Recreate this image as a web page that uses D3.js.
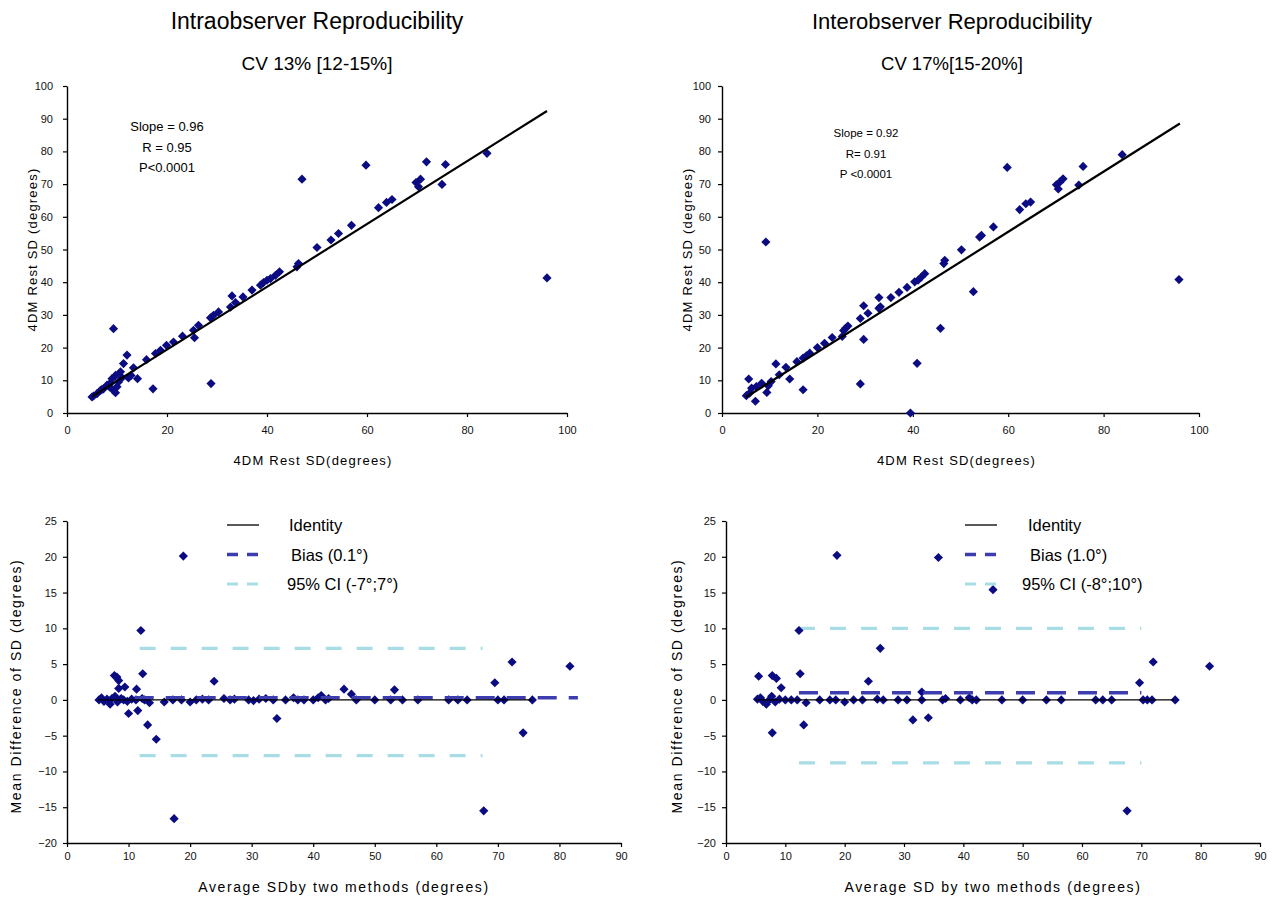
<!DOCTYPE html>
<html>
<head>
	<meta charset="utf-8">
	<title>Intra / Interobserver Reproducibility</title>
	<script src="https://d3js.org/d3.v7.min.js"></script>
	<style>
		body { margin: 0; background: #fff; }
		svg text { font-family: "Liberation Sans", Arial, sans-serif; }
	</style>
</head>
<body>
	<div class="chart"></div>

	<script type="text/javascript">

		// ---- data ----
		var titles = ['Intraobserver Reproducibility', 'Interobserver Reproducibility']
		var subtitles = ['CV 13% [12-15%]', 'CV 17%[15-20%]']
		var statsIntra = ['Slope = 0.96', 'R = 0.95', 'P<0.0001']
		var statsInter = ['Slope = 0.92', 'R= 0.91', 'P <0.0001']
		var legendIntra = ['Identity', 'Bias (0.1°)', '95% CI (-7°;7°)']
		var legendInter = ['Identity', 'Bias (1.0°)', '95% CI (-8°;10°)']

		var scatterXTicks = [0, 20, 40, 60, 80, 100]
		var scatterYTicks = [0, 10, 20, 30, 40, 50, 60, 70, 80, 90, 100]
		var diffXTicks = [0, 10, 20, 30, 40, 50, 60, 70, 80, 90]
		var diffYTicks = [-20, -15, -10, -5, 0, 5, 10, 15, 20, 25]

		// regression: [slope, intercept, xStart, xEnd]
		var fitIntra = [0.96, 0.2, 5, 96]
		var fitInter = [0.92, 0.2, 5, 96]

		// bland-altman lines: [value, xStart, xEnd]
		var identityIntra = [0, 5, 75.5]
		var identityInter = [0, 5, 75.5]
		var biasIntra = [0.3, 11, 83]
		var biasInter = [1.0, 12.3, 70]
		var ciIntra = [[7.2, 11.8, 67.5], [-7.8, 11.8, 67.5]]
		var ciInter = [[10, 12.3, 70], [-8.8, 12.3, 70]]

		var intraPoints = [
			[5, 4.9], [5.3, 5.2], [6, 5.9], [6.7, 6.9], [7, 7.2], [7.3, 7.4], [8, 8.5], [8.5, 8], [8.7, 9.2],
			[9, 10.5], [9.3, 6.9], [9.7, 6.2], [10, 8], [10.3, 9.5], [9.7, 11.5], [10.7, 12.6], [11, 10.8],
			[11.3, 15.1], [12, 17.7], [12.3, 10.7], [12.8, 11.5], [13.3, 13.8], [14.1, 10.5], [9.3, 25.8],
			[15.9, 16.3], [17.2, 7.4], [17.7, 18.2], [18.7, 19.2], [19.9, 20.7], [21.3, 21.7], [23.1, 23.5],
			[25.3, 25.3], [25.5, 23], [26.3, 26.8], [28.7, 29.1], [28.8, 9], [29.3, 29.9], [30.3, 30.9],
			[32.7, 32.4], [33, 35.8], [33.7, 33.8], [35.2, 35.5], [37, 37.6], [38.7, 39.1], [39.3, 39.9],
			[40, 40.6], [40.7, 41.1], [41.7, 42.1], [42.5, 43.2], [46, 44.7], [46.3, 45.7], [47, 71.5],
			[50, 50.6], [52.8, 52.9], [54.3, 54.9], [56.9, 57.4], [59.8, 75.8], [62.3, 62.8], [63.9, 64.4],
			[65, 65.3], [69.8, 70.5], [70.3, 69.2], [70.7, 71.5], [71.9, 76.8], [75, 69.9], [75.7, 76],
			[84, 79.4], [96, 41.3]
		]

		var interPoints = [
			[5.1, 5.3], [5.8, 6.1], [5.6, 10.4], [6.2, 7.6], [7, 3.6], [7.2, 8.1], [8.3, 9.1], [9.2, 52.3],
			[9.4, 6.3], [9.7, 8.3], [10.3, 9.6], [11.3, 15], [12, 11.7], [13.4, 14], [14.2, 10.4], [15.7, 15.7],
			[17, 16.8], [17, 7.1], [17.7, 17.5], [18.4, 18.3], [20, 20], [21.5, 21.3], [23.1, 23.1],
			[25.2, 23.4], [25.5, 25.2], [25.9, 25.9], [26.4, 26.6], [29, 28.9], [29, 8.9], [29.7, 32.8],
			[29.7, 22.5], [30.6, 30.5], [32.9, 35.3], [32.9, 32], [33.2, 32.5], [35.4, 35.3], [37.1, 36.9],
			[38.8, 38.4], [39.5, 0], [40.4, 40.1], [40.9, 15.2], [41.1, 40.6], [41.8, 41.6], [42.5, 42.6],
			[45.8, 25.9], [46.5, 45.7], [46.7, 46.7], [50.2, 49.9], [52.7, 37.1], [54, 53.8], [54.4, 54.3],
			[56.9, 56.9], [59.8, 75.1], [62.4, 62.2], [63.7, 64], [64.7, 64.5], [70.1, 69.8], [70.5, 68.5],
			[70.8, 70.6], [71.5, 71.6], [74.8, 69.7], [75.7, 75.4], [83.9, 79], [95.8, 40.8]
		]

		var intraDiff = [
			[18.9, 20.1], [12, 9.7], [12.3, 3.65], [11.3, 1.5], [11.5, -1.5], [10, -1.9], [13.1, -3.5],
			[14.5, -5.5], [17.4, -16.6], [23.9, 2.6], [34.1, -2.6], [45, 1.5], [46.2, 0.8], [53.2, 1.4],
			[69.5, 2.4], [72.3, 5.3], [74.1, -4.6], [67.7, -15.5], [81.7, 4.7], [75.6, 0], [7.7, 3.4],
			[8.1, 3.2], [8.4, 2.7], [9.4, 1.8], [8.4, 1.6],
			[5.2, 0], [5.6, 0.3], [6, -0.2], [6.5, 0.1], [7, -0.6], [7.3, 0.2], [7.8, 0.5], [8.2, -0.3],
			[8.8, 0.2], [9.2, 0], [9.8, -0.2], [10.5, 0.1], [11.2, 0], [12.2, 0.2], [12.6, 0], [13.4, -0.4],
			[15.8, -0.3], [17.2, 0], [18.6, 0], [20, -0.3], [21, 0], [22, 0.1], [23, 0], [25.5, 0.2],
			[26.5, 0], [27.2, 0.1], [29.5, 0], [30.3, -0.1], [31.2, 0.1], [32.3, 0.2], [33.5, 0], [35.5, 0],
			[36.8, 0.3], [37.5, 0], [38.5, 0], [40, 0], [40.8, 0.3], [41.3, 0.6], [42, 0], [42.5, 0.2],
			[47, 0], [50, 0], [52.6, 0], [54.5, 0], [57, 0], [62, 0], [63.5, 0], [65, 0], [70, 0], [71, 0]
		]

		var interDiff = [
			[18.7, 20.2], [35.8, 19.9], [45, 15.4], [12.3, 9.7], [26, 7.2], [24, 2.6], [12.5, 3.65],
			[5.5, 3.3], [7.8, 3.4], [8.5, 3], [9.3, 1.7], [7.8, -4.6], [13.1, -3.5], [31.5, -2.8],
			[34.1, -2.5], [33, 1.1], [67.6, -15.5], [69.7, 2.4], [72, 5.3], [81.5, 4.7], [75.7, 0],
			[5.3, 0.1], [5.8, 0.3], [6.2, -0.2], [6.8, -0.6], [7.3, 0], [7.7, 0.5], [8.3, -0.3], [9, 0.1],
			[10, 0], [11, 0], [12, 0], [13.5, -0.4], [15.8, 0], [17.5, 0], [18.5, 0], [20, -0.3], [21.5, 0],
			[23, 0], [25.5, 0.1], [26.5, 0], [29, 0], [30.5, 0], [33, 0], [36.5, 0], [37, 0.2], [39.5, 0],
			[41, 0.3], [41.5, 0], [42.2, 0], [46.5, 0], [50, 0], [54, 0], [56.5, 0], [62.3, 0], [63.5, 0],
			[65, 0], [70.3, 0], [71, 0], [71.8, 0]
		]

		// ---- drawing ----
		var navy = '#0b0b82'
		var biasColor = '#3d3db0'
		var ciColor = '#a9dde6'

		var svg = d3.select('.chart')
			.append('svg')
			.attr('width', 1272)
			.attr('height', 903)
			.style('background-color', '#fff')

		var diamond = d3.symbol().type(d3.symbolSquare).size(42)

		function drawAxes(x, y, xTicks, yTicks, xPad, yPad) {
			var gx = svg.append('g')
				.attr('transform', `translate(0, ${y.range()[0]})`)
				.call(d3.axisBottom(x).tickValues(xTicks).tickSize(4).tickSizeOuter(0).tickPadding(xPad))
			var gy = svg.append('g')
				.attr('transform', `translate(${x.range()[0]}, 0)`)
				.call(d3.axisLeft(y).tickValues(yTicks).tickSize(4).tickSizeOuter(0).tickPadding(yPad))
			;[gx, gy].forEach(g => {
				g.selectAll('text').style('font-size', '11px').style('fill', '#111')
				g.selectAll('line').style('stroke', '#000').style('stroke-width', 1.2)
				g.select('.domain').style('stroke', '#000').style('stroke-width', 1.4)
			})
		}

		function drawPoints(x, y, pts) {
			svg.append('g')
				.selectAll('path')
				.data(pts)
				.enter()
				.append('path')
				.attr('d', diamond)
				.attr('transform', d => `translate(${x(d[0])}, ${y(d[1])}) rotate(45)`)
				.attr('fill', navy)
		}

		function axisTitles(cx, cy, xText, xY, yText, yX, size, spacing) {
			svg.append('text')
				.attr('x', cx).attr('y', xY)
				.attr('text-anchor', 'middle')
				.style('font-size', size + 'px')
				.style('letter-spacing', spacing + 'px')
				.text(xText)
			svg.append('text')
				.attr('transform', `translate(${yX}, ${cy}) rotate(-90)`)
				.attr('text-anchor', 'middle')
				.style('font-size', size + 'px')
				.style('letter-spacing', spacing + 'px')
				.text(yText)
		}

		// top scatter panels
		function scatterPanel(range, pts, fit, stats, statsPos, statsSize, title, subtitle, head, yPad) {
			var x = d3.scaleLinear().domain([0, 100]).range(range)
			var y = d3.scaleLinear().domain([0, 100]).range([413, 86])
			var cx = (range[0] + range[1]) / 2

			// head: [centre x, title size, subtitle size]
			svg.append('text').attr('x', head[0]).attr('y', 29)
				.attr('text-anchor', 'middle').style('font-size', head[1] + 'px').text(title)
			svg.append('text').attr('x', head[0]).attr('y', 70)
				.attr('text-anchor', 'middle').style('font-size', head[2] + 'px').text(subtitle)

			drawAxes(x, y, scatterXTicks, scatterYTicks, 9, yPad)
			drawPoints(x, y, pts)

			var line = d3.line().x(d => x(d)).y(d => y(fit[0] * d + fit[1]))
			svg.append('path')
				.attr('d', line([fit[2], fit[3]]))
				.attr('stroke', '#000')
				.attr('stroke-width', 2.2)
				.attr('fill', 'none')

			svg.append('g').selectAll('text')
				.data(stats)
				.enter()
				.append('text')
				.attr('x', statsPos[0])
				.attr('y', (d, i) => statsPos[1] + i * 20.5)
				.attr('text-anchor', 'middle')
				.style('font-size', statsSize + 'px')
				.text(d => d)

			axisTitles(cx - 4, (413 + 86) / 2, '4DM Rest SD(degrees)', 465, '4DM Rest SD (degrees)', range[0] - 30, 13, 1.2)
		}

		scatterPanel([67, 567], intraPoints, fitIntra, statsIntra, [167, 131], 13, titles[0], subtitles[0], [317, 23, 19], 10)
		scatterPanel([722, 1199], interPoints, fitInter, statsInter, [866, 137], 11.5, titles[1], subtitles[1], [952, 22, 18.5], 7)

		// bottom difference panels
		function diffPanel(range, pts, identity, bias, ci, legend, legX, textX, xTitle, titleX) {
			var x = d3.scaleLinear().domain([0, 90]).range(range)
			var y = d3.scaleLinear().domain([-20, 25]).range([843, 521])

			drawAxes(x, y, diffXTicks, diffYTicks, 5, 6)

			var hline = d => `M${x(d[1])},${y(d[0])}H${x(d[2])}`

			ci.forEach(c => {
				svg.append('path').attr('d', hline(c))
					.attr('stroke', ciColor).attr('stroke-width', 3.2)
					.attr('stroke-dasharray', '16,15').attr('fill', 'none')
			})
			drawPoints(x, y, pts)
			svg.append('path').attr('d', hline(bias))
				.attr('stroke', biasColor).attr('stroke-width', 3.5)
				.attr('stroke-dasharray', '19,12').attr('fill', 'none')
			svg.append('path').attr('d', hline(identity))
				.attr('stroke', '#000').attr('stroke-width', 1.3).attr('fill', 'none')

			// legend
			var styles = [
				{ stroke: '#222', w: 1.5, dash: null },
				{ stroke: biasColor, w: 3.5, dash: '11,9' },
				{ stroke: ciColor, w: 3.2, dash: '11,9' }
			]
			var leg = svg.append('g')
			legend.forEach((t, i) => {
				var ly = 525 + i * 29.5
				leg.append('path')
					.attr('d', `M${legX},${ly}H${legX + 32}`)
					.attr('stroke', styles[i].stroke)
					.attr('stroke-width', styles[i].w)
					.attr('stroke-dasharray', styles[i].dash)
				leg.append('text')
					.attr('x', textX[i]).attr('y', ly + 6)
					.style('font-size', '16.5px')
					.text(t)
			})

			axisTitles((range[0] + range[1]) / 2, 686, xTitle, 892, 'Mean Difference of SD (degrees)', titleX, 14, 1.6)
		}

		diffPanel([67, 621], intraDiff, identityIntra, biasIntra, ciIntra, legendIntra, 227, [289, 291, 287],
			'Average SDby two methods (degrees)', 21)
		diffPanel([726, 1260], interDiff, identityInter, biasInter, ciInter, legendInter, 965, [1028, 1030, 1022],
			'Average SD by two methods (degrees)', 682)

	</script>
</body>
</html>
